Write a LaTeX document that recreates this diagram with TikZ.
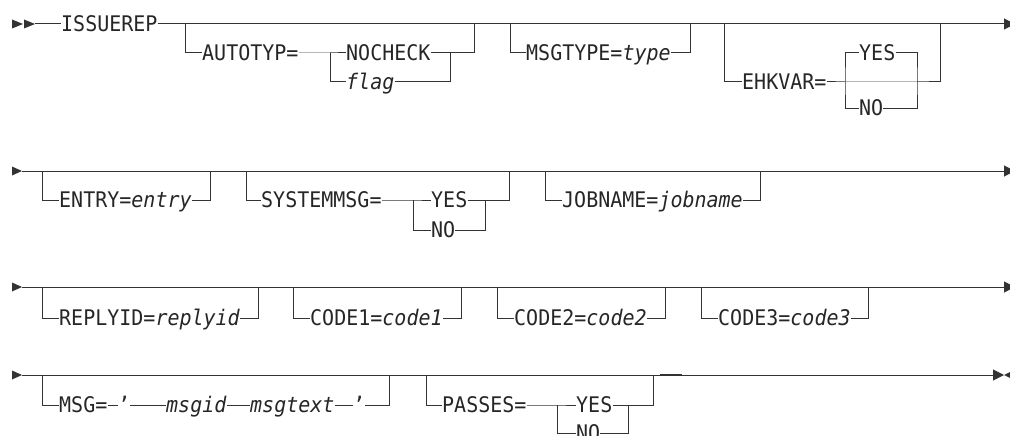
\documentclass[tikz,border=0pt]{standalone}
\usepackage{fontspec}
\newfontfamily\railfont[FakeStretch=0.93, ItalicFont={DejaVu Sans Mono Oblique}]{DejaVu Sans Mono}
\usepackage{tikz}
\usetikzlibrary{arrows.meta}
\usetikzlibrary{positioning}
\colorlet{railgray}{black!80}
\tikzset{
    kw/.style = {inner sep=0pt, anchor=west, text height=15.6pt, text depth=0pt, text=black!85, font=\railfont\fontsize{21.5}{21.5}\selectfont},
    rail/.style = {draw=railgray, line width=1pt},
    railend/.style = {rail, -{Triangle[length=11pt,width=11pt]}},
    railtip/.style = {fill=railgray},
}

\begin{document}
\begin{tikzpicture}[x=1pt,y=-1pt]
\useasboundingbox (0,0) rectangle (1010,436);
% row 1
\fill[railtip] (12,19.5) -- (23,24) -- (12,28.5) -- cycle;
\fill[railtip] (24,19.5) -- (35,24) -- (24,28.5) -- cycle;
\coordinate (s1) at (35,24);
\coordinate (e1) at (1015,24);
\node[kw] (issuerep) at (61,24) {ISSUEREP};
\draw[rail] (s1) -- (issuerep.west);
\draw[railend] (issuerep.east) -- (e1);
%
\coordinate (a1) at (185,24);
\coordinate (a2) at (330,53);
\coordinate (a3) at (450,53);
\coordinate (a4) at (474,24);
\node[kw] (autotyp) at (202,53) {AUTOTYP=};
\node[kw] (nocheck) at (346,53) {NOCHECK};
\node[kw] (flag) at (346,82) {\itshape flag};
\draw[rail] (a1) |- (autotyp.west);
\draw[rail] (autotyp.east) -- (a2) -- (nocheck.west);
\draw[rail] (a2) |- (flag.west);
\draw[rail] (nocheck.east) -- (a3);
\draw[rail] (flag.east) -| (a3);
\draw[rail] (a3) -| (a4);
%
\coordinate (m1) at (510,24);
\coordinate (m2) at (690,24);
\node[kw] (msgtype) at (526,53) {MSGTYPE=\textit{type}};
\draw[rail] (m1) |- (msgtype.west);
\draw[rail] (msgtype.east) -| (m2);
%
\coordinate (h1) at (724,24);
\coordinate (h2) at (845,82);
\coordinate (h3) at (917,82);
\coordinate (h4) at (940,24);
\node[kw] (ehkvar) at (742,82) {EHKVAR=};
\node[kw] (ehyes) at (859,53) {YES};
\node[kw] (ehno) at (859,108) {NO};
\draw[rail] (h1) |- (ehkvar.west);
\draw[rail] (ehkvar.east) -- (h2) -- (h3) -| (h4);
\draw[rail] (ehyes.west) -| (h2) |- (ehno.west);
\draw[rail] (ehyes.east) -| (h3) |- (ehno.east);
% row 2
\fill[railtip] (12,166.5) -- (22,171) -- (12,175.5) -- cycle;
\coordinate (s2) at (22,171);
\coordinate (e2) at (1015,171);
\draw[railend] (s2) -- (e2);
%
\coordinate (n1) at (42,171);
\coordinate (n2) at (210,171);
\node[kw] (entry) at (59,200) {ENTRY=\textit{entry}};
\draw[rail] (n1) |- (entry.west);
\draw[rail] (entry.east) -| (n2);
%
\coordinate (y1) at (246,171);
\coordinate (y2) at (413,200);
\coordinate (y3) at (485,200);
\coordinate (y4) at (509,171);
\node[kw] (sysmsg) at (261,200) {SYSTEMMSG=};
\node[kw] (smyes) at (431,200) {YES};
\node[kw] (smno) at (431,230) {NO};
\draw[rail] (y1) |- (sysmsg.west);
\draw[rail] (sysmsg.east) -- (y2) -- (smyes.west);
\draw[rail] (y2) |- (smno.west);
\draw[rail] (smyes.east) -- (y3);
\draw[rail] (smno.east) -| (y3);
\draw[rail] (y3) -| (y4);
%
\coordinate (j1) at (545,171);
\coordinate (j2) at (760,171);
\node[kw] (jobname) at (562,200) {JOBNAME=\textit{jobname}};
\draw[rail] (j1) |- (jobname.west);
\draw[rail] (jobname.east) -| (j2);
% row 3
\fill[railtip] (12,282.5) -- (22,287) -- (12,291.5) -- cycle;
\coordinate (s3) at (22,287);
\coordinate (e3) at (1015,287);
\draw[railend] (s3) -- (e3);
%
\coordinate (p1) at (42,287);
\coordinate (p2) at (258,287);
\node[kw] (replyid) at (59,318) {REPLYID=\textit{replyid}};
\draw[rail] (p1) |- (replyid.west);
\draw[rail] (replyid.east) -| (p2);
%
\coordinate (k1) at (293,287);
\coordinate (k2) at (461,287);
\node[kw] (codea) at (310,318) {CODE1=\textit{code1}};
\draw[rail] (k1) |- (codea.west);
\draw[rail] (codea.east) -| (k2);
%
\coordinate (k3) at (497,287);
\coordinate (k4) at (665,287);
\node[kw] (codeb) at (514,318) {CODE2=\textit{code2}};
\draw[rail] (k3) |- (codeb.west);
\draw[rail] (codeb.east) -| (k4);
%
\coordinate (k5) at (701,287);
\coordinate (k6) at (868,287);
\node[kw] (codec) at (718,318) {CODE3=\textit{code3}};
\draw[rail] (k5) |- (codec.west);
\draw[rail] (codec.east) -| (k6);
% row 4
\fill[railtip] (12,370.5) -- (22,375) -- (12,379.5) -- cycle;
\coordinate (s4) at (22,375);
\coordinate (e4) at (1004,375);
\draw[railend] (s4) -- (e4);
\fill[railtip] (1010,372) -- (1004,375) -- (1010,378) -- cycle;
%
\coordinate (g1) at (42,375);
\coordinate (g2) at (389,375);
\node[kw] (msg) at (59,405) {MSG=};
\node[kw] (quotea) at (118,405) {’};
\node[kw] (msgid) at (166,405) {\itshape msgid};
\node[kw] (msgtext) at (250,405) {\itshape msgtext};
\node[kw] (quoteb) at (353,405) {’};
\draw[rail] (g1) |- (msg.west);
\draw[rail] (msg.east) -- (quotea.west);
\draw[rail] (quotea.east) -- (msgid.west);
\draw[rail] (msgid.east) -- (msgtext.west);
\draw[rail] (msgtext.east) -- (quoteb.west);
\draw[rail] (quoteb.east) -| (g2);
%
\coordinate (q1) at (426,375);
\coordinate (q2) at (557,405);
\coordinate (q3) at (628,405);
\coordinate (q4) at (653,375);
\node[kw] (passes) at (442,405) {PASSES=};
\node[kw] (psyes) at (576,405) {YES};
\node[kw] (psno) at (576,433) {NO};
\draw[rail] (q1) |- (passes.west);
\draw[rail] (passes.east) -- (q2) -- (psyes.west);
\draw[rail] (q2) |- (psno.west);
\draw[rail] (psyes.east) -- (q3);
\draw[rail] (psno.east) -| (q3);
\draw[rail] (q3) -| (q4);
%
\coordinate (d1) at (660,374.6);
\coordinate (d2) at (682,374.6);
\draw[rail, line width=1.8pt] (d1) -- (d2);
\end{tikzpicture}
\end{document}
